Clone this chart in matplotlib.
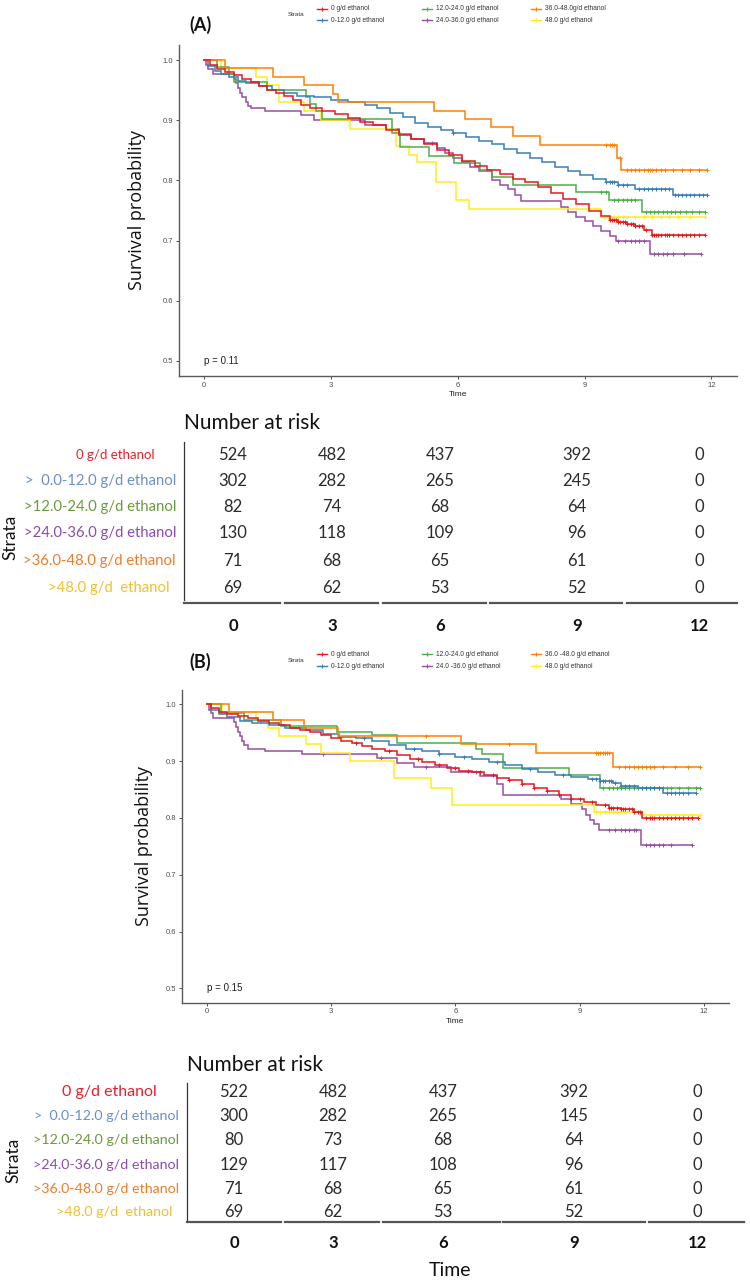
import numpy as np
import matplotlib

matplotlib.use("Agg")
import matplotlib.pyplot as plt

plt.rcParams["font.family"] = ["Liberation Sans", "DejaVu Sans"]

W, H = 750, 1281

# ---------------------------------------------------------------- data
TIME_TICKS = [0, 3, 6, 9, 12]
SURV_TICKS = [0.5, 0.6, 0.7, 0.8, 0.9, 1.0]

LEGEND_A = ["0 g/d ethanol", "0-12.0 g/d ethanol", "12.0-24.0 g/d ethanol",
            "24.0-36.0 g/d ethanol", "36.0-48.0g/d ethanol", "48.0 g/d ethanol"]
LEGEND_B = ["0 g/d ethanol", "0-12.0 g/d ethanol", "12.0-24.0 g/d ethanol",
            "24.0 -36.0 g/d ethanol", "36.0 -48.0 g/d ethanol", "48.0 g/d ethanol"]
ROW_LABELS = ["0 g/d ethanol", ">  0.0-12.0 g/d ethanol", ">12.0-24.0 g/d ethanol",
              ">24.0-36.0 g/d ethanol", ">36.0-48.0 g/d ethanol", ">48.0 g/d  ethanol"]

# panel A: step times, survival, censor times
a_red_t = [0, 0.15, 0.3, 0.5, 0.7, 0.9, 1.1, 1.3, 1.5, 1.7, 1.9, 2.1, 2.3, 2.5, 2.8, 3.1, 3.4,
           3.7, 4.0, 4.3, 4.6, 4.9, 5.2, 5.5, 5.8, 6.1, 6.4, 6.7, 7.0, 7.3, 7.6, 7.9, 8.2,
           8.5, 8.8, 9.1, 9.4, 9.6, 9.8, 10.0, 10.2, 10.4, 10.6]
a_red_s = [1.0, 0.992, 0.985, 0.98, 0.975, 0.968, 0.963, 0.957, 0.951, 0.945, 0.94, 0.933,
           0.926, 0.921, 0.916, 0.91, 0.903, 0.897, 0.892, 0.884, 0.876, 0.868, 0.86, 0.851,
           0.842, 0.833, 0.824, 0.817, 0.81, 0.803, 0.797, 0.789, 0.779, 0.769, 0.76, 0.75,
           0.741, 0.735, 0.731, 0.728, 0.725, 0.718, 0.71]
a_red_c = [9.6, 9.65, 9.7, 9.75, 9.8, 9.85, 9.9, 9.95, 10.0, 10.1, 10.15, 10.2, 10.3, 10.35,
           10.45, 10.6, 10.65, 10.7, 10.75, 10.8, 10.9, 10.95, 11.0, 11.1, 11.2, 11.3, 11.4,
           11.5, 11.6, 11.7, 11.85]

a_blue_t = [0, 0.1, 0.25, 0.4, 0.6, 0.8, 1.0, 1.3, 1.6, 1.9, 2.2, 2.6, 3.0, 3.4, 3.8, 4.1,
            4.4, 4.7, 5.0, 5.3, 5.6, 5.9, 6.2, 6.5, 6.8, 7.1, 7.4, 7.7, 8.0, 8.3, 8.6, 8.9,
            9.2, 9.5, 9.8, 10.2, 11.1]
a_blue_s = [1.0, 0.99, 0.982, 0.976, 0.971, 0.966, 0.962, 0.957, 0.951, 0.946, 0.941, 0.938,
            0.934, 0.93, 0.926, 0.92, 0.912, 0.905, 0.895, 0.889, 0.884, 0.878, 0.872, 0.866,
            0.86, 0.853, 0.845, 0.838, 0.83, 0.822, 0.815, 0.809, 0.803, 0.797, 0.793, 0.785,
            0.776]
a_blue_c = [5.9, 9.5, 9.6, 9.65, 9.7, 9.8, 9.9, 10.0, 10.3, 10.4, 10.5, 10.6, 10.7, 10.8,
            10.9, 11.0, 11.15, 11.2, 11.3, 11.4, 11.5, 11.6, 11.7, 11.8, 11.9]

a_green_t = [0, 0.3, 0.6, 0.7, 1.5, 2.4, 2.5, 2.65, 2.8, 4.45, 4.64, 5.33, 5.92, 6.52, 6.81,
             7.31, 8.79, 9.58, 10.37]
a_green_s = [1.0, 0.988, 0.976, 0.963, 0.951, 0.939, 0.927, 0.915, 0.902, 0.878, 0.855, 0.84,
             0.829, 0.818, 0.806, 0.793, 0.78, 0.767, 0.747]
a_green_c = [9.4, 9.5, 9.7, 9.8, 9.9, 10.0, 10.1, 10.2, 10.45, 10.55, 10.65, 10.75, 10.85,
             10.95, 11.05, 11.15, 11.25, 11.4, 11.55, 11.7, 11.85]

a_purple_t = [0, 0.05, 0.1, 0.2, 0.7, 0.75, 0.8, 0.85, 0.9, 1.0, 1.05, 1.1, 1.45, 2.3, 2.6,
              3.8, 4.3, 4.6, 4.9, 5.2, 5.5, 5.7, 5.9, 6.1, 6.3, 6.5, 6.8, 7.0, 7.2, 7.35, 7.5,
              8.45, 8.6, 8.8, 9.0, 9.2, 9.4, 9.6, 9.75, 10.55]
a_purple_s = [1.0, 0.992, 0.985, 0.977, 0.969, 0.962, 0.954, 0.946, 0.938, 0.931, 0.923, 0.92,
              0.915, 0.908, 0.9, 0.892, 0.885, 0.877, 0.869, 0.862, 0.854, 0.846, 0.838, 0.831,
              0.823, 0.815, 0.8, 0.792, 0.785, 0.775, 0.765, 0.755, 0.747, 0.74, 0.732, 0.724,
              0.716, 0.708, 0.7, 0.677]
a_purple_c = [5.4, 9.8, 9.95, 10.1, 10.2, 10.3, 10.4, 10.65, 10.75, 10.85, 10.95, 11.1, 11.35,
              11.75]

a_orange_t = [0, 0.5, 1.63, 2.37, 3.06, 3.17, 5.43, 6.17, 6.78, 7.3, 7.95, 9.77, 9.87]
a_orange_s = [1.0, 0.986, 0.972, 0.958, 0.944, 0.93, 0.916, 0.902, 0.888, 0.874, 0.859, 0.837,
              0.817]
a_orange_c = [9.5, 9.6, 9.65, 9.7, 9.85, 10.0, 10.1, 10.2, 10.3, 10.4, 10.5, 10.55, 10.6, 10.7,
              10.8, 10.9, 11.1, 11.3, 11.5, 11.7, 11.9]

a_yellow_t = [0, 0.39, 1.23, 1.48, 1.78, 2.37, 2.76, 3.46, 4.54, 4.84, 5.03, 5.48, 5.97, 6.27,
              9.38]
a_yellow_s = [1.0, 0.986, 0.972, 0.958, 0.93, 0.915, 0.9, 0.886, 0.857, 0.843, 0.83, 0.797,
              0.767, 0.753, 0.74]
a_yellow_c = [9.45, 9.55, 9.7, 9.8, 9.9, 10.0, 10.2, 10.4, 10.6, 10.8, 11.0, 11.2, 11.5, 11.85]

# panel B
b_red_t = [0, 0.1, 0.3, 0.5, 0.75, 1.0, 1.25, 1.5, 1.75, 2.0, 2.25, 2.5, 2.75, 3.0, 3.25, 3.5,
           3.75, 4.0, 4.3, 4.6, 4.9, 5.2, 5.5, 5.8, 6.1, 6.4, 6.7, 7.0, 7.3, 7.6, 7.9, 8.2,
           8.5, 8.8, 9.1, 9.4, 9.7, 10.0, 10.3, 10.5]
b_red_s = [1.0, 0.993, 0.987, 0.983, 0.979, 0.975, 0.971, 0.967, 0.963, 0.959, 0.955, 0.951,
           0.946, 0.94, 0.936, 0.932, 0.927, 0.922, 0.917, 0.91, 0.904, 0.898, 0.893, 0.888,
           0.883, 0.88, 0.876, 0.871, 0.866, 0.86, 0.853, 0.847, 0.84, 0.834, 0.828, 0.822,
           0.818, 0.815, 0.811, 0.8]
b_red_c = [3.6, 4.4, 5.1, 5.6, 6.0, 6.3, 6.6, 6.9, 7.3, 7.6, 7.9, 8.2, 8.5, 8.8, 9.0, 9.3, 9.6,
           9.7, 9.75, 9.8, 9.9, 10.0, 10.05, 10.1, 10.2, 10.25, 10.3, 10.4, 10.45, 10.6, 10.7,
           10.75, 10.8, 10.9, 11.0, 11.1, 11.2, 11.3, 11.4, 11.5, 11.6, 11.7, 11.85]

b_blue_t = [0, 0.1, 0.3, 0.5, 0.8, 1.1, 1.5, 1.9, 2.4, 2.8, 3.2, 3.6, 4.0, 4.4, 4.8, 5.2, 5.6,
            6.0, 6.4, 6.8, 7.2, 7.6, 8.0, 8.4, 8.8, 9.2, 9.5, 9.8, 10.0, 10.4, 11.0]
b_blue_s = [1.0, 0.99, 0.983, 0.977, 0.971, 0.967, 0.963, 0.959, 0.954, 0.948, 0.943, 0.94,
            0.935, 0.928, 0.922, 0.918, 0.913, 0.908, 0.904, 0.899, 0.893, 0.886, 0.881, 0.876,
            0.872, 0.868, 0.865, 0.862, 0.857, 0.853, 0.843]
b_blue_c = [3.8, 5.0, 5.6, 6.2, 7.0, 7.8, 8.6, 9.3, 9.4, 9.5, 9.55, 9.6, 9.7, 9.75, 9.85, 10.0,
            10.1, 10.2, 10.3, 10.5, 10.6, 10.7, 10.8, 10.9, 11.1, 11.2, 11.3, 11.4, 11.5, 11.6,
            11.8]

b_green_t = [0, 0.35, 0.9, 1.8, 3.15, 4.0, 4.6, 6.5, 6.65, 7.15, 8.75, 9.5]
b_green_s = [1.0, 0.985, 0.972, 0.962, 0.952, 0.945, 0.932, 0.922, 0.912, 0.887, 0.875, 0.853]
b_green_c = [9.55, 9.7, 9.8, 9.9, 10.0, 10.1, 10.2, 10.3, 10.4, 10.5, 10.6, 10.7, 10.8, 10.9,
             11.0, 11.1, 11.2, 11.4, 11.6, 11.8, 11.9]

b_purple_t = [0, 0.05, 0.1, 0.15, 0.65, 0.7, 0.75, 0.8, 0.85, 0.9, 1.0, 1.4, 2.3, 4.1, 4.6,
              5.0, 5.9, 6.6, 7.0, 7.15, 8.55, 8.8, 9.05, 9.15, 9.25, 9.35, 9.46, 10.47]
b_purple_s = [1.0, 0.99, 0.984, 0.976, 0.968, 0.96, 0.952, 0.944, 0.936, 0.928, 0.921, 0.917,
              0.912, 0.905, 0.897, 0.89, 0.88, 0.874, 0.86, 0.84, 0.833, 0.825, 0.815, 0.805,
              0.797, 0.79, 0.778, 0.753]
b_purple_c = [2.8, 4.2, 5.3, 6.5, 9.7, 9.85, 10.0, 10.1, 10.2, 10.3, 10.35, 10.6, 10.7, 10.8,
              10.9, 11.0, 11.2, 11.7]

b_orange_t = [0, 0.53, 1.59, 2.35, 3.16, 6.13, 7.94, 9.81]
b_orange_s = [1.0, 0.986, 0.972, 0.958, 0.944, 0.93, 0.915, 0.89]
b_orange_c = [5.3, 7.3, 9.4, 9.45, 9.5, 9.55, 9.6, 9.65, 9.7, 9.95, 10.1, 10.2, 10.3, 10.4,
              10.5, 10.6, 10.7, 10.8, 11.0, 11.3, 11.6, 11.9]

b_yellow_t = [0, 0.38, 1.19, 1.49, 1.74, 2.4, 2.76, 3.46, 4.52, 5.42, 5.93, 9.35, 10.5]
b_yellow_s = [1.0, 0.986, 0.972, 0.958, 0.944, 0.93, 0.915, 0.9, 0.87, 0.853, 0.822, 0.81,
              0.805]
b_yellow_c = [9.4, 9.5, 9.6, 9.7, 9.8, 9.9, 10.0, 10.1, 10.3, 10.5, 10.7, 10.9, 11.1, 11.3,
              11.5, 11.7, 11.9]

# number at risk (rows follow ROW_LABELS, columns follow TIME_TICKS)
risk_a = [[524, 482, 437, 392, 0], [302, 282, 265, 245, 0], [82, 74, 68, 64, 0],
          [130, 118, 109, 96, 0], [71, 68, 65, 61, 0], [69, 62, 53, 52, 0]]
risk_b = [[522, 482, 437, 392, 0], [300, 282, 265, 145, 0], [80, 73, 68, 64, 0],
          [129, 117, 108, 96, 0], [71, 68, 65, 61, 0], [69, 62, 53, 52, 0]]

# ---------------------------------------------------------------- styles
CURVE_COLORS = ["#e41a1c", "#377eb8", "#4daf4a", "#984ea3", "#ff7f00", "#ffee1a"]
LABEL_COLORS = ["#e8202a", "#6a8fc9", "#6b9a3c", "#8a4cb0", "#f07b2a", "#f0c030"]
DRAW_ORDER = [3, 5, 2, 1, 4, 0]
TABLE_FONT = "Lato"

# layout in pixels of the 750 x 1281 canvas
LAYOUT_A = dict(
    axes=(178.7, 45, 736.7, 376), title_y=25, legend_y=(9, 20), p_text="p = 0.11",
    legend=LEGEND_A, ylabel_x=-0.058,
    nar_y=423, row_y=[455, 481, 507, 533, 561, 588], col_x=[233, 332, 440, 577, 699],
    label_right=[155, 176, 176, 176, 176, 170], label_size=[9.5] + [10.7] * 5,
    vline=(184, 442, 600), hline_y=603,
    segs=[(184, 280), (285, 378), (383, 486), (490, 622), (627, 737)],
    tick_y=626, strata=(10, 537), time_y=None,
)
LAYOUT_B = dict(
    axes=(181.7, 690, 729, 1002.7), title_y=662, legend_y=(654, 666), p_text="p = 0.15",
    legend=LEGEND_B, ylabel_x=-0.053,
    nar_y=1065, row_y=[1092, 1116, 1140, 1165, 1189, 1212], col_x=[234, 333, 443, 574, 697],
    label_right=[157, 179, 179, 179, 179, 172], label_size=[11.5] + [10.3] * 5,
    vline=(186.6, 1083, 1220), hline_y=1222,
    segs=[(186.6, 281), (284.7, 379), (382.8, 500), (503, 645), (649, 744)],
    tick_y=1243, strata=(13, 1160), time_y=1271,
)


def _rect(x0, y0, x1, y1):
    """Pixel box (top-left origin) -> figure fraction rect."""
    return [x0 / W, 1 - y1 / H, (x1 - x0) / W, (y1 - y0) / H]


def draw_km(ax, curves, layout):
    """Kaplan-Meier steps with censor marks."""
    for i in DRAW_ORDER:
        t, s, cens = curves[i]
        color = CURVE_COLORS[i]
        tt = list(t) + [max(cens)]
        ss = list(s) + [s[-1]]
        ax.step(tt, ss, where="post", color=color, lw=1.1, solid_joinstyle="miter")
        idx = np.searchsorted(t, cens, side="right") - 1
        ax.plot(cens, np.asarray(s)[idx], ls="none", marker="+", ms=3.4, mew=0.75,
                color=color)

    ax.set_xlim(-0.6, 12.6)
    ax.set_ylim(0.475, 1.025)
    ax.set_xticks(TIME_TICKS)
    ax.set_yticks(SURV_TICKS)
    ax.set_yticklabels([f"{v:.1f}" for v in SURV_TICKS])
    for side in ("top", "right"):
        ax.spines[side].set_visible(False)
    for side in ("left", "bottom"):
        ax.spines[side].set_color("#5a5a5a")
        ax.spines[side].set_linewidth(1.0)
    ax.tick_params(length=2, width=0.6, color="#333333", labelsize=5.5,
                   labelcolor="#4d4d4d", pad=2)
    ax.set_xlabel("Time", fontsize=6, labelpad=2, color="#222222")
    ax.set_ylabel("Survival probability", fontsize=13, family="Open Sans", color="#111111")
    ax.yaxis.set_label_coords(layout["ylabel_x"], 0.5)
    ax.text(0, 0.5, layout["p_text"], fontsize=7, ha="left", va="center", color="#222222")


def draw_legend(ov, labels, rows):
    ov.text(296, sum(rows) / 2, "Strata", fontsize=4.5, ha="center", va="center",
            color="#333333")
    key_x = [317, 422, 531]
    for i, lab in enumerate(labels):
        c, r = divmod(i, 2)
        x0, y = key_x[c], rows[r]
        ov.plot([x0, x0 + 10], [y, y], color=CURVE_COLORS[i], lw=1.0)
        ov.plot([x0 + 5], [y], marker="+", ms=3, mew=0.8, color=CURVE_COLORS[i])
        ov.text(x0 + 14, y, lab, fontsize=4.8, ha="left", va="center", color="#333333")


def draw_table(ov, risk, layout):
    ov.text(layout["axes"][0] + 5, layout["nar_y"], "Number at risk", fontsize=15,
            family=TABLE_FONT, ha="left", va="center", color="#111111")
    for r, row in enumerate(risk):
        y = layout["row_y"][r]
        ov.text(layout["label_right"][r], y, ROW_LABELS[r], fontsize=layout["label_size"][r],
                family=TABLE_FONT, ha="right", va="center", color=LABEL_COLORS[r])
        for c, val in enumerate(row):
            ov.text(layout["col_x"][c], y, str(val), fontsize=12, family=TABLE_FONT,
                    ha="center", va="center", color="#2b2b2b")
    vx, vy0, vy1 = layout["vline"]
    ov.plot([vx, vx], [vy0, vy1], color="#333333", lw=0.9)
    for x0, x1 in layout["segs"]:
        ov.plot([x0, x1], [layout["hline_y"]] * 2, color="#555555", lw=1.6)
    for c, tick in enumerate(TIME_TICKS):
        ov.text(layout["col_x"][c], layout["tick_y"], str(tick), fontsize=12,
                family=TABLE_FONT, weight="bold", ha="center", va="center",
                color="#111111")
    sx, sy = layout["strata"]
    ov.text(sx, sy, "Strata", fontsize=12.5, family=TABLE_FONT, rotation=90,
            ha="center", va="center", color="#111111")
    if layout["time_y"] is not None:
        ov.text(450, layout["time_y"], "Time", fontsize=14, family=TABLE_FONT,
                ha="center", va="center", color="#111111")


fig = plt.figure(figsize=(W / 100, H / 100), dpi=100)
ov = fig.add_axes([0, 0, 1, 1])
ov.set_xlim(0, W)
ov.set_ylim(H, 0)
ov.axis("off")

curves_a = [(a_red_t, a_red_s, a_red_c), (a_blue_t, a_blue_s, a_blue_c),
            (a_green_t, a_green_s, a_green_c), (a_purple_t, a_purple_s, a_purple_c),
            (a_orange_t, a_orange_s, a_orange_c), (a_yellow_t, a_yellow_s, a_yellow_c)]
curves_b = [(b_red_t, b_red_s, b_red_c), (b_blue_t, b_blue_s, b_blue_c),
            (b_green_t, b_green_s, b_green_c), (b_purple_t, b_purple_s, b_purple_c),
            (b_orange_t, b_orange_s, b_orange_c), (b_yellow_t, b_yellow_s, b_yellow_c)]

for tag, curves, risk, layout in (("(A)", curves_a, risk_a, LAYOUT_A),
                                  ("(B)", curves_b, risk_b, LAYOUT_B)):
    ax = fig.add_axes(_rect(*layout["axes"]))
    ax.patch.set_alpha(0)
    draw_km(ax, curves, layout)
    ov.text(200, layout["title_y"], tag, fontsize=13, weight="bold", family=TABLE_FONT,
            ha="center", va="center", color="#111111")
    draw_legend(ov, layout["legend"], layout["legend_y"])
    draw_table(ov, risk, layout)

fig.savefig("out.png", dpi=100)
